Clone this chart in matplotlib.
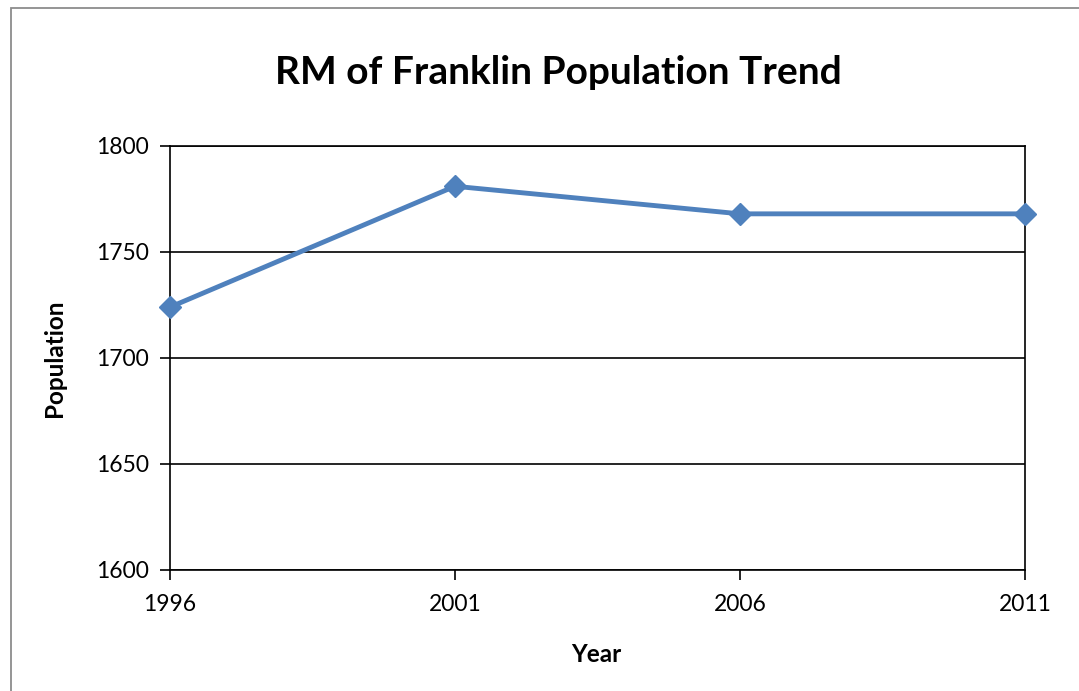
import matplotlib
matplotlib.use("Agg")
import matplotlib.pyplot as plt
from matplotlib.patches import Rectangle

years = ["1996", "2001", "2006", "2011"]
population = [1724, 1781, 1768, 1768]
y_ticks = [1600, 1650, 1700, 1750, 1800]

plt.rcParams['font.family'] = ['Lato', 'DejaVu Sans']

fig = plt.figure(figsize=(10.79, 6.91), dpi=100)
fig.patch.set_facecolor('white')
fig.patches.append(Rectangle((11/1079, -0.1), 1.2, 0.1 + (1 - 8/691), transform=fig.transFigure,
                             fill=False, edgecolor='#8c8c8c', linewidth=1.3))

ax = fig.add_axes([170/1079, 1 - 570/691, (1025 - 170)/1079, (570 - 146)/691])
x = list(range(len(years)))
ax.plot(x, population, color='#4F81BD', linewidth=3.5, marker='D', markersize=11,
        markerfacecolor='#4F81BD', markeredgecolor='#4F81BD', zorder=3, clip_on=False)
ax.set_xlim(0, len(years) - 1)
ax.set_ylim(1600, 1800)
ax.set_yticks(y_ticks)
ax.set_xticks(x)
ax.set_xticklabels(years)
ax.yaxis.grid(True, color='black', linewidth=1.2)
ax.set_axisbelow(True)
for s in ax.spines.values():
    s.set_color('black')
    s.set_linewidth(1.2)
ax.tick_params(axis='both', direction='out', length=7, width=1.2, labelsize=16.5, color='black')
ax.tick_params(axis='x', pad=10)
ax.tick_params(axis='y', pad=8)

fig.text(558/1079, 1 - 73/691, "RM of Franklin Population Trend", ha='center', va='center',
         fontsize=28, fontweight='bold')
fig.text(596/1079, 1 - 655/691, "Year", ha='center', va='center', fontsize=17.5, fontweight='bold')
fig.text(55/1079, 1 - 358/691, "Population", ha='center', va='center', fontsize=17.5,
         fontweight='bold', rotation=90)

fig.savefig("out.png", dpi=100, facecolor='white')
